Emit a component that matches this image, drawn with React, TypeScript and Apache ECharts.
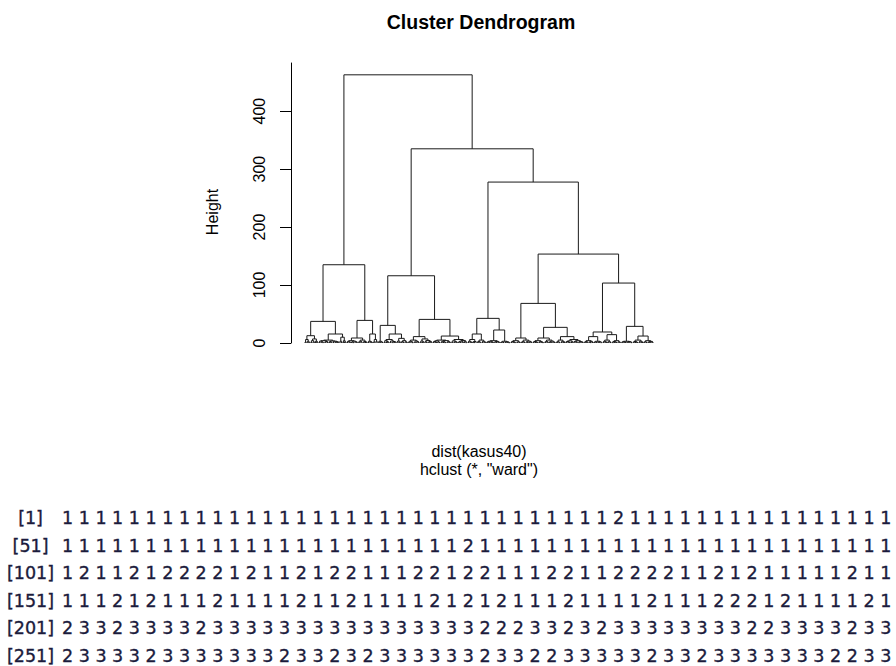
import React, { useEffect, useRef } from "react";
import * as echarts from "echarts";

// Merge tree in bracket notation: "o" is one observation, "(L R)h" joins L and R at height h.
// Lowest twigs of each group
const ALLa = "((o o)1.5 (o (o o)0.8)3)6";
const ALLb = "(((o o)1.2 (o o)2)4 (o (o o)1.5)3)7";
const ALRa = "((((o o)1 (o (o o)0.7)2)3.2 ((o o)1.4 (o o)0.9)2.6)4 ((o (o o)1.1)2.4 ((o o)0.8 ((o o)1 (o o)1.6)2.2)3)3.5)5";
const ALRb = "((o (o o)1)3 (o (o o)2)4)10";
const ARLa = "(((o o)1 (o o)1.5)2.8 ((o (o o)0.6)1.8 (o (o o)1.2)2.2)3.1)4";
const ARLb = "(((o o)0.9 (o o)2)3 ((o o)1.3 (o o)1.7)2.5)5";
const ARRa = "((o o)1 (o (o o)0.8)2)3";
const ARRb = "((o o)2 (o o)3)6";

const BLL = "((o o)1.2 (o (o o)0.9)2)3";
const BLRa = "(((o o)1 (o (o o)1.5)2.5)4 ((o o)1.1 ((o o)0.7 (o o)1.8)2.6)3.4)6";
const BLRb = "(((o o)2 (o o)1)3.3 ((o (o o)1)2.4 (o (o o)0.8)2)4)8";
const BRLa = "(((o o)1.4 (o (o o)0.6)2.1)3 ((o o)1 (o (o o)1.2)2.5)3.6)5";
const BRLb = "(((o o)1 (o o)2.2)3.5 ((o (o o)1.3)2 ((o o)0.9 (o o)1.5)2.8)4.2)7";
const BRRa = "((((o o)1 (o o)1.6)2.7 (o (o o)0.8)2)3.8 (((o o)1.2 (o (o o)0.7)1.9)3 ((o o)1.5 (o o)0.9)2.3)4.1)5";
const BRRb = "(((o o)1 ((o o)1.4 (o o)0.8)2.2)3.6 (((o (o o)1)2 (o o)1.7)3.1 (o (o o)0.6)2.9)4.4)6";

const CLLa = "(((o o)1 (o o)2)3 ((o (o o)0.7)1.5 o)2.6)6";
const CLLb = "(((o o)1.3 (o o)0.8)2.4 ((o o)1.1 (o o)1.9)3)5";
const CLRa = "((((o o)1 (o o)1.4)2 (o (o o)0.9)1.8)3 ((o (o o)1.2)2.1 (o o)1.6)2.7)4";
const CLRb = "(((o o)0.9 (o o)0.8)1.7 ((o o)1 (o (o o)0.5)1.4)2.2)3";

const DLLa = "(((o o)1 (o (o o)0.7)1.6)2.5 ((o o)1.2 (o o)0.9)2)4";
const DLLb = "(((o o)1.5 (o o)1)2.3 ((o (o o)0.8)1.9 (o (o o)1.1)2.2)3.2)5";
const DLRLa = "(((o o)0.8 (o (o o)1)1.7)2.6 ((o o)1.3 (o (o o)0.6)1.5)2.4)4";
const DLRLb = "(((o o)1 (o o)1.7)2.8 ((o (o o)1.2)2 (o (o o)0.9)1.8)3.1)5";
const DLRRa = "(((o o)1.4 (o o)0.7)2.2 ((o o)1 (o o)2.1)3)5";
const DLRRb = "((((o o)1 (o (o o)0.8)1.5)2.6 (o o)2.4)3.7 (((o o)2 (o o)1.4)2.9 ((o o)0.7 (o (o o)1.3)1.9)2.5)4)6";

const DRLLa = "(((o o)1 (o o)1.6)2.3 ((o (o o)0.7)1.4 o)2.8)4";
const DRLLb = "(((o o)0.9 (o o)1.2)1.8 ((o o)1.4 (o o)0.6)2.1)3";
const DRLRa = "(((o o)1.1 (o o)2)2.9 ((o o)1.5 (o o)0.8)2.2)5";
const DRLRb = "(((o o)0.7 (o (o o)1)1.8)2.5 (o (o o)1.3)2)4";
const DRRL = "(((o o)0.8 (o (o o)1.1)1.6)2.2 ((o o)1 (o (o o)0.6)1.9)2.5)3";
const DRRRa = "(((o o)1 (o (o o)0.9)1.7)2.6 ((o o)1.3 (o o)2)3.1)5";
const DRRRb = "(((o o)1.2 (o o)0.8)2 ((o (o o)1)1.9 (o o)1.5)2.7)4";

// Upper merges of the three main groups
const clusterA = `(((${ALLa} ${ALLb})12.6 (${ALRa} ${ALRb})15.5)37.3 ((${ARLa} ${ARLb})8.6 (${ARRa} ${ARRb})15.5)39)135`;
const clusterB = `((${BLL} (${BLRa} ${BLRb})15.5)30.4 ((${BRLa} ${BRLb})11 (${BRRa} ${BRRb})12)40.7)116`;
const clusterCL = `((${CLLa} ${CLLb})15.5 (${CLRa} ${CLRb})22.4)42.5`;
const clusterDL = `((${DLLa} ${DLLb})8.6 ((${DLRLa} ${DLRLb})8.6 (${DLRRa} ${DLRRb})11)27)68.3`;
const clusterDR = `(((${DRLLa} ${DRLLb})11 (${DRLRa} ${DRLRb})14.4)19 (${DRRL} (${DRRRa} ${DRRRb})12)28.7)103.4`;
const tree = `(${clusterA} (${clusterB} (${clusterCL} (${clusterDL} ${clusterDR})153.4)277.6)335)462.6`;

// Group membership printed under the plot, 50 observations per line
const membershipRows = [
  "11111111111111111111111111111111121111111111111111",
  "11111111111111111111111121111111111111111111111111",
  "12112122221211212211122122111221122221121211111211",
  "11121211121111211211112121211121111211122212111121",
  "23323333233333333333333332223323233333333223333233",
  "23333233333332332323333332332233333233233333332233",
];

const yTicks = [0, 100, 200, 300, 400];
const mainTitle = "Cluster Dendrogram";
const xLabel = "dist(kasus40)";
const subLabel = 'hclust (*, "ward")';
const yLabel = "Height";

type Merge = [number, number, number, number, number];

function layoutTree(src: string) {
  let i = 0;
  let leaves = 0;
  const merges: Merge[] = [];
  const skip = () => {
    while (src[i] === " ") i++;
  };
  const read = (): { x: number; h: number } => {
    skip();
    if (src[i] === "o") {
      i++;
      leaves++;
      return { x: leaves, h: 0 };
    }
    i++; // "("
    const l = read();
    const r = read();
    skip();
    i++; // ")"
    let num = "";
    while (i < src.length && /[0-9.]/.test(src[i])) num += src[i++];
    const h = parseFloat(num);
    merges.push([l.x, l.h, r.x, r.h, h]);
    return { x: (l.x + r.x) / 2, h };
  };
  read();
  return { merges, leaves };
}

const textStyle = (
  text: string,
  font: string,
  align: string,
  vAlign: string,
  fill = "#000",
  weight = 0
) => ({
  text,
  font,
  fill,
  align,
  textAlign: align,
  verticalAlign: vAlign,
  textVerticalAlign: vAlign,
  ...(weight > 0 ? { stroke: fill, lineWidth: weight } : {}),
});

export default function App() {
  const ref = useRef<HTMLDivElement>(null);

  useEffect(() => {
    if (!ref.current) return;
    const chart = echarts.init(ref.current, null, { renderer: "svg" });
    const { merges, leaves } = layoutTree(tree);

    const graphics: any[] = [
      { type: "text", x: 481, y: 22, silent: true, style: textStyle(mainTitle, 'bold 19.5px "Liberation Sans"', "center", "middle") },
      { type: "text", x: 212, y: 212, rotation: Math.PI / 2, silent: true, style: textStyle(yLabel, '16px "Liberation Sans"', "center", "middle") },
      { type: "text", x: 479, y: 451, silent: true, style: textStyle(xLabel, '16px "Liberation Sans"', "center", "middle") },
      { type: "text", x: 479, y: 469, silent: true, style: textStyle(subLabel, '16px "Liberation Sans"', "center", "middle") },
    ];

    const ink = "#1b1b3c";
    membershipRows.forEach((row, k) => {
      const y = 518 + k * 27.5;
      const prefix = `[${k * row.length + 1}]`;
      const padded = "\u00A0".repeat(Math.max(0, 5 - prefix.length)) + prefix;
      graphics.push({
        type: "text",
        x: 7,
        y,
        silent: true,
        style: textStyle(padded, '17.5px "DejaVu Sans"', "left", "middle", ink, 0.35),
      });
      graphics.push({
        type: "text",
        x: 62,
        y,
        silent: true,
        style: textStyle(row.split("").join(" "), '17.5px "DejaVu Sans"', "left", "middle", ink, 0.35),
      });
    });

    chart.setOption({
      animation: false,
      backgroundColor: "#fff",
      grid: { left: 305, top: 63, width: 348, height: 280 },
      xAxis: { type: "value", min: 1, max: leaves, show: false },
      yAxis: {
        type: "value",
        min: 0,
        max: 483,
        offset: 14,
        axisLine: { show: true, lineStyle: { color: "#000", width: 1 } },
        axisTick: { show: true, length: 11, customValues: yTicks, lineStyle: { color: "#000", width: 1 } },
        axisLabel: {
          customValues: yTicks,
          rotate: 90,
          margin: 24,
          fontSize: 16,
          fontFamily: "Liberation Sans",
          color: "#000",
        },
        splitLine: { show: false },
      },
      series: [
        {
          type: "custom",
          silent: true,
          data: merges,
          encode: { x: [0, 2], y: [1, 3, 4] },
          renderItem: (_params: any, api: any) => {
            const a = api.coord([api.value(0), api.value(1)]);
            const b = api.coord([api.value(0), api.value(4)]);
            const c = api.coord([api.value(2), api.value(4)]);
            const d = api.coord([api.value(2), api.value(3)]);
            return {
              type: "polyline",
              shape: { points: [a, b, c, d] },
              style: { stroke: "#1a1a1a", lineWidth: 1, fill: "none" },
            };
          },
        },
      ],
      graphic: graphics,
    });

    return () => chart.dispose();
  }, []);

  return (
    <div
      ref={ref}
      style={{ position: "fixed", left: 0, top: 0, width: 896, height: 666, background: "#fff" }}
    />
  );
}
